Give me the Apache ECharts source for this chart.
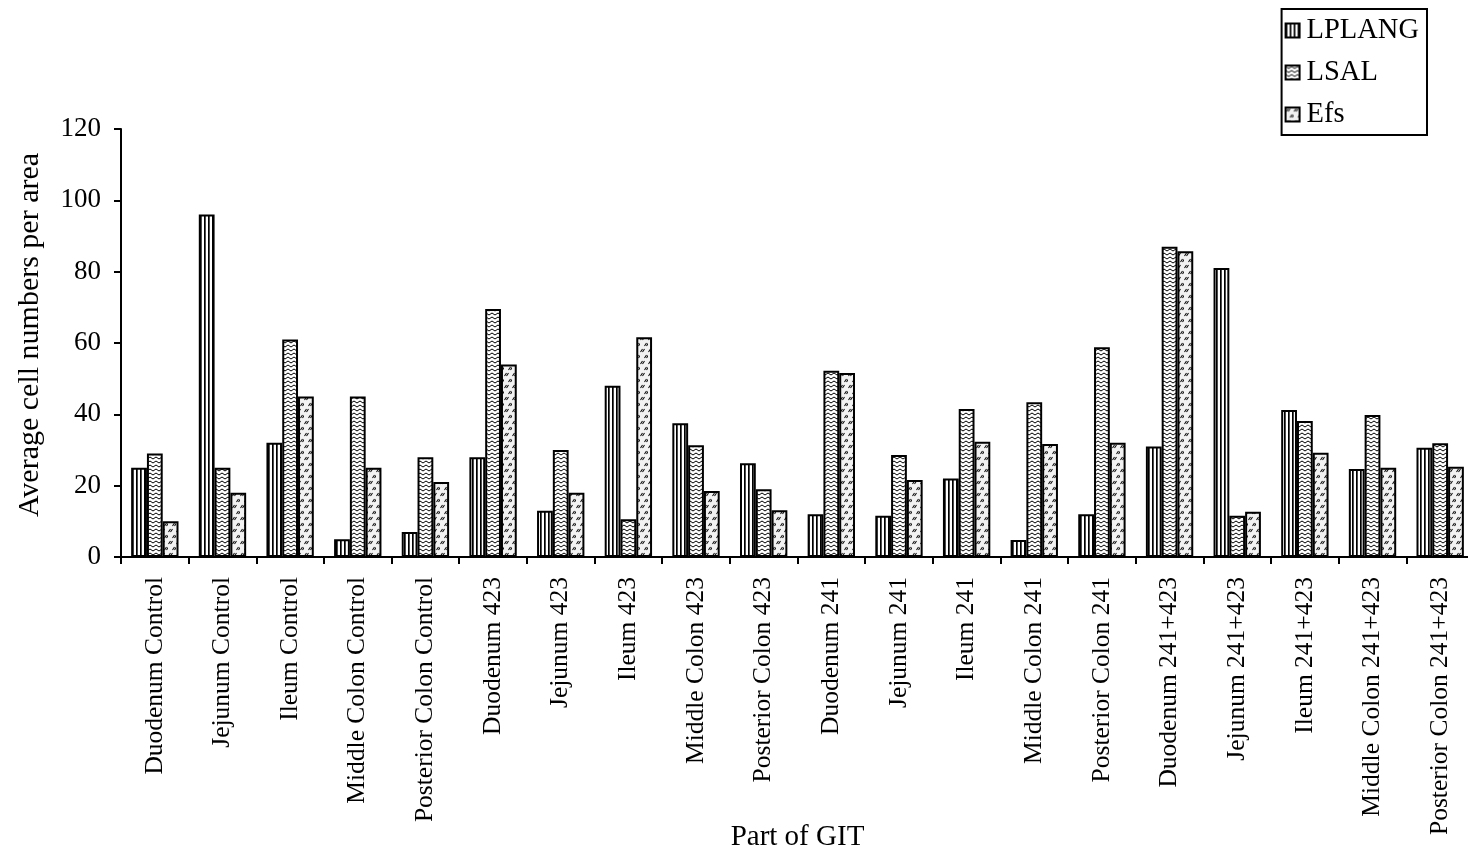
<!DOCTYPE html>
<html>
<head>
<meta charset="utf-8">
<script src="https://cdn.jsdelivr.net/npm/echarts@6/dist/echarts.min.js"></script>
<style>
  html, body { margin: 0; padding: 0; background: #fff; }
  #chart { width: 1468px; height: 854px; }
</style>
</head>
<body>
<div id="chart"></div>
<script>
// Sections of the gastrointestinal tract, per treatment group
const categories = [
  'Duodenum Control', 'Jejunum Control', 'Ileum Control', 'Middle Colon Control', 'Posterior Colon Control',
  'Duodenum 423', 'Jejunum 423', 'Ileum 423', 'Middle Colon 423', 'Posterior Colon 423',
  'Duodenum 241', 'Jejunum 241', 'Ileum 241', 'Middle Colon 241', 'Posterior Colon 241',
  'Duodenum 241+423', 'Jejunum 241+423', 'Ileum 241+423', 'Middle Colon 241+423', 'Posterior Colon 241+423'
];

// Average cell numbers per area
const lplang = [25, 96, 32, 5, 7, 28, 13, 48, 37.5, 26.3, 12, 11.6, 22, 4.8, 12, 31, 81, 41.2, 24.7, 30.6];
const lsal   = [29, 25, 61, 45, 28, 69.5, 30, 10.6, 31.3, 19, 52.2, 28.6, 41.5, 43.4, 58.8, 87, 11.6, 38.1, 39.8, 31.9];
const efs    = [10, 18, 45, 25, 21, 54, 18, 61.6, 18.5, 13.1, 51.6, 21.6, 32.3, 31.7, 32, 85.7, 12.7, 29.2, 25, 25.3];

const yTicks = { min: 0, max: 120, interval: 20 };

// Hatch fills drawn on small canvases
function makeTile(w, h, draw) {
  const c = document.createElement('canvas');
  c.width = w; c.height = h;
  const ctx = c.getContext('2d');
  ctx.fillStyle = '#fff';
  ctx.fillRect(0, 0, w, h);
  ctx.strokeStyle = '#000';
  ctx.fillStyle = '#000';
  draw(ctx);
  return c;
}

// vertical stripes
const stripeTile = makeTile(4, 4, ctx => {
  ctx.fillRect(0, 0, 1.7, 4);
});

// stacked zigzag lines
const zigzagTile = makeTile(6, 4, ctx => {
  ctx.lineWidth = 1;
  ctx.beginPath();
  ctx.moveTo(0, 1);
  ctx.lineTo(3, 3);
  ctx.lineTo(6, 1);
  ctx.stroke();
});

// short double slashes on a light ground, staggered rows
const slashTile = makeTile(8, 12, ctx => {
  ctx.fillStyle = '#f2f2f2';
  ctx.fillRect(0, 0, 8, 12);
  ctx.strokeStyle = '#111';
  ctx.lineWidth = 1.1;
  ctx.beginPath();
  ctx.moveTo(0.5, 4); ctx.lineTo(2.5, 1);
  ctx.moveTo(2.5, 4); ctx.lineTo(4.5, 1);
  ctx.moveTo(4.5, 10); ctx.lineTo(6.5, 7);
  ctx.moveTo(6.5, 10); ctx.lineTo(8.5, 7);
  ctx.stroke();
});

const font = '"Liberation Serif", "Times New Roman", serif';

function barSeries(name, data, tile) {
  return {
    name: name,
    type: 'bar',
    data: data,
    barGap: '0%',
    barCategoryGap: '30%',
    itemStyle: {
      color: { image: tile, repeat: 'repeat' },
      borderColor: '#000',
      borderWidth: 2
    },
    emphasis: { disabled: true }
  };
}

const chart = echarts.init(document.getElementById('chart'), null, { renderer: 'canvas' });
chart.setOption({
  backgroundColor: '#fff',
  animation: false,
  textStyle: { fontFamily: font, color: '#000' },
  legend: {
    orient: 'vertical',
    right: 41,
    top: 9,
    padding: [7, 8, 6, 3],
    itemWidth: 14,
    itemHeight: 14,
    itemGap: 13,
    borderColor: '#000',
    borderWidth: 2,
    icon: 'rect',
    textStyle: { fontFamily: font, fontSize: 28.5, lineHeight: 28, color: '#000', padding: [0, 0, 0, 2] },
    data: ['LPLANG', 'LSAL', 'Efs']
  },
  grid: { left: 121, right: -6, top: 129, bottom: 297, outerBoundsMode: 'none', containLabel: false },
  xAxis: {
    type: 'category',
    data: categories,
    name: 'Part of GIT',
    nameLocation: 'middle',
    nameGap: 266,
    nameMoveOverlap: false,
    nameTextStyle: { fontFamily: font, fontSize: 29, color: '#000' },
    axisLine: { lineStyle: { color: '#000', width: 2 } },
    axisTick: { show: true, length: 7, lineStyle: { color: '#000', width: 2 } },
    axisLabel: { rotate: 90, margin: 20, fontFamily: font, fontSize: 25.5, color: '#000', interval: 0 }
  },
  yAxis: {
    type: 'value',
    min: yTicks.min,
    max: yTicks.max,
    interval: yTicks.interval,
    name: 'Average cell numbers per area',
    nameLocation: 'middle',
    nameGap: 76,
    nameMoveOverlap: false,
    nameTextStyle: { fontFamily: font, fontSize: 30, color: '#000', padding: [0, 0, 0, 16] },
    axisLine: { show: true, lineStyle: { color: '#000', width: 2 } },
    axisTick: { show: true, length: 7, lineStyle: { color: '#000', width: 2 } },
    axisLabel: { margin: 20, fontFamily: font, fontSize: 27, color: '#000' },
    splitLine: { show: false }
  },
  series: [
    barSeries('LPLANG', lplang, stripeTile),
    barSeries('LSAL', lsal, zigzagTile),
    barSeries('Efs', efs, slashTile)
  ]
});
</script>
</body>
</html>
